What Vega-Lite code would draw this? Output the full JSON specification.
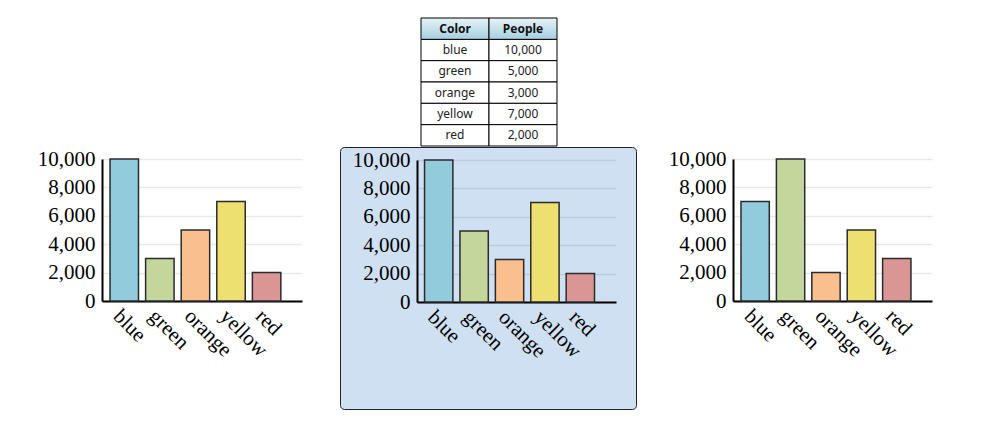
{
  "$schema": "https://vega.github.io/schema/vega-lite/v6.json",
  "background": "#ffffff",
  "padding": {"left": 25, "top": 17, "right": 5, "bottom": 5},
  "config": {
    "view": {"stroke": null},
    "axis": {
      "domainColor": "#000000",
      "domainWidth": 2,
      "ticks": false,
      "tickSize": 0,
      "labelFont": "Liberation Serif",
      "labelFontSize": 21,
      "labelColor": "#000000",
      "title": null,
      "gridColor": "#000000",
      "gridOpacity": 0.09,
      "gridWidth": 1.5
    }
  },
  "datasets": {
    "left": [
      {"Color": "blue", "People": 10000},
      {"Color": "green", "People": 3000},
      {"Color": "orange", "People": 5000},
      {"Color": "yellow", "People": 7000},
      {"Color": "red", "People": 2000}
    ],
    "middle": [
      {"Color": "blue", "People": 10000},
      {"Color": "green", "People": 5000},
      {"Color": "orange", "People": 3000},
      {"Color": "yellow", "People": 7000},
      {"Color": "red", "People": 2000}
    ],
    "right": [
      {"Color": "blue", "People": 7000},
      {"Color": "green", "People": 10000},
      {"Color": "orange", "People": 2000},
      {"Color": "yellow", "People": 5000},
      {"Color": "red", "People": 3000}
    ],
    "header": [
      {"Column": "Color"},
      {"Column": "People"}
    ]
  },
  "hconcat": [
    {
      "width": 294,
      "height": 391,
      "data": {"name": "left"},
      "mark": {"type": "bar", "stroke": "#2b2b2b", "strokeWidth": 1.5},
      "encoding": {
        "x": {
          "field": "Color", "type": "nominal", "sort": null,
          "scale": {"domain": ["blue", "green", "orange", "yellow", "red"], "range": [77, 277], "paddingInner": 0.2, "paddingOuter": 0.41, "align": 0.275},
          "axis": {"offset": -108, "labelAngle": 45, "labelPadding": 4, "labelFont": "Liberation Serif", "labelFontSize": 21, "labelColor": "#000000", "domainColor": "#000000", "domainWidth": 2, "ticks": false, "grid": false, "title": null}
        },
        "y": {
          "field": "People", "type": "quantitative",
          "scale": {"domain": [0, 10000], "range": [283, 141], "nice": false},
          "axis": {"offset": -77, "values": [0, 2000, 4000, 6000, 8000, 10000], "labelExpr": "format(datum.value, ',')", "labelFont": "Liberation Serif", "labelFontSize": 21, "labelColor": "#000000", "labelPadding": 7, "domainColor": "#000000", "domainWidth": 2, "ticks": false, "tickSize": 0, "grid": true, "gridColor": "#000000", "gridOpacity": 0.09, "gridWidth": 1.5, "title": null}
        },
        "color": {
          "field": "Color", "type": "nominal",
          "scale": {"domain": ["blue", "green", "orange", "yellow", "red"], "range": ["#92cbdc", "#c3d69b", "#f9bf8f", "#eedf71", "#d99694"]},
          "legend": null
        }
      }
    },
    {
      "spacing": -3,
      "vconcat": [
        {
          "width": 296,
          "height": 128,
          "data": {"name": "middle"},
          "encoding": {
            "y": {
              "field": "Color", "type": "nominal",
              "scale": {"domain": ["header", "blue", "green", "orange", "yellow", "red"], "paddingInner": 0, "paddingOuter": 0},
              "axis": null
            }
          },
          "layer": [
            {
              "mark": {"type": "rect", "fill": "#ffffff", "stroke": "#000000", "strokeWidth": 1},
              "encoding": {
                "x": {"datum": "Color", "type": "nominal", "scale": {"domain": ["Color", "People"], "range": [81, 217], "paddingInner": 0, "paddingOuter": 0}, "axis": null}
              }
            },
            {
              "mark": {"type": "rect", "fill": "#ffffff", "stroke": "#000000", "strokeWidth": 1},
              "encoding": {
                "x": {"datum": "People", "type": "nominal"}
              }
            },
            {
              "mark": {"type": "text", "font": "Noto Sans", "fontSize": 12, "color": "#222222"},
              "encoding": {
                "x": {"datum": "Color", "type": "nominal"},
                "text": {"field": "Color", "type": "nominal"}
              }
            },
            {
              "mark": {"type": "text", "font": "Noto Sans", "fontSize": 12, "color": "#222222"},
              "encoding": {
                "x": {"datum": "People", "type": "nominal"},
                "text": {"field": "People", "type": "quantitative", "format": ","}
              }
            },
            {
              "data": {"name": "header"},
              "mark": {
                "type": "rect", "stroke": "#000000", "strokeWidth": 1,
                "fill": {"gradient": "linear", "x1": 0, "y1": 0, "x2": 0, "y2": 1, "stops": [{"offset": 0, "color": "#e8f3f8"}, {"offset": 1, "color": "#a6cfe0"}]}
              },
              "encoding": {
                "x": {"field": "Column", "type": "nominal"},
                "y": {"datum": "header", "type": "nominal"}
              }
            },
            {
              "data": {"name": "header"},
              "mark": {"type": "text", "font": "Noto Sans", "fontSize": 12, "fontWeight": "bold", "color": "#111111"},
              "encoding": {
                "x": {"field": "Column", "type": "nominal"},
                "y": {"datum": "header", "type": "nominal"},
                "text": {"field": "Column", "type": "nominal"}
              }
            }
          ]
        },
        {
          "width": 296,
          "height": 262,
          "view": {"fill": "#cfe0f2", "stroke": "#222222", "strokeWidth": 1, "cornerRadius": 4},
          "data": {"name": "middle"},
          "mark": {"type": "bar", "stroke": "#2b2b2b", "strokeWidth": 1.5},
          "encoding": {
            "x": {
              "field": "Color", "type": "nominal", "sort": null,
              "scale": {"domain": ["blue", "green", "orange", "yellow", "red"], "range": [77, 276], "paddingInner": 0.2, "paddingOuter": 0.41, "align": 0.26},
              "axis": {"offset": -107, "labelAngle": 45, "labelPadding": 4, "labelFont": "Liberation Serif", "labelFontSize": 21, "labelColor": "#000000", "domainColor": "#000000", "domainWidth": 2, "ticks": false, "grid": false, "title": null}
            },
            "y": {
              "field": "People", "type": "quantitative",
              "scale": {"domain": [0, 10000], "range": [155, 13], "nice": false},
              "axis": {"offset": -77, "values": [0, 2000, 4000, 6000, 8000, 10000], "labelExpr": "format(datum.value, ',')", "labelFont": "Liberation Serif", "labelFontSize": 21, "labelColor": "#000000", "labelPadding": 7, "domainColor": "#000000", "domainWidth": 2, "ticks": false, "tickSize": 0, "grid": true, "gridColor": "#000000", "gridOpacity": 0.09, "gridWidth": 1.5, "title": null}
            },
            "color": {
              "field": "Color", "type": "nominal",
              "scale": {"domain": ["blue", "green", "orange", "yellow", "red"], "range": ["#92cbdc", "#c3d69b", "#f9bf8f", "#eedf71", "#d99694"]},
              "legend": null
            }
          }
        }
      ]
    },
    {
      "width": 296,
      "height": 391,
      "data": {"name": "right"},
      "mark": {"type": "bar", "stroke": "#2b2b2b", "strokeWidth": 1.5},
      "encoding": {
        "x": {
          "field": "Color", "type": "nominal", "sort": null,
          "scale": {"domain": ["blue", "green", "orange", "yellow", "red"], "range": [76, 275], "paddingInner": 0.2, "paddingOuter": 0.41, "align": 0.275},
          "axis": {"offset": -108, "labelAngle": 45, "labelPadding": 4, "labelFont": "Liberation Serif", "labelFontSize": 21, "labelColor": "#000000", "domainColor": "#000000", "domainWidth": 2, "ticks": false, "grid": false, "title": null}
        },
        "y": {
          "field": "People", "type": "quantitative",
          "scale": {"domain": [0, 10000], "range": [283, 141], "nice": false},
          "axis": {"offset": -76, "values": [0, 2000, 4000, 6000, 8000, 10000], "labelExpr": "format(datum.value, ',')", "labelFont": "Liberation Serif", "labelFontSize": 21, "labelColor": "#000000", "labelPadding": 7, "domainColor": "#000000", "domainWidth": 2, "ticks": false, "tickSize": 0, "grid": true, "gridColor": "#000000", "gridOpacity": 0.09, "gridWidth": 1.5, "title": null}
        },
        "color": {
          "field": "Color", "type": "nominal",
          "scale": {"domain": ["blue", "green", "orange", "yellow", "red"], "range": ["#92cbdc", "#c3d69b", "#f9bf8f", "#eedf71", "#d99694"]},
          "legend": null
        }
      }
    }
  ],
  "spacing": 20
}
